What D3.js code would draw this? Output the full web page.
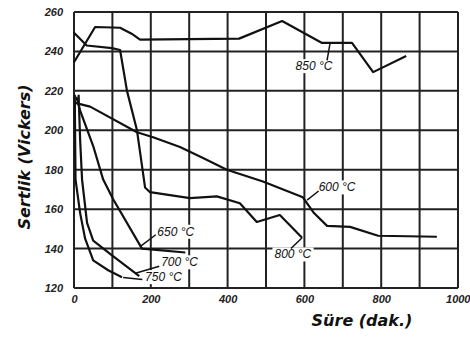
<!DOCTYPE html>
<html>
<head>
<meta charset="utf-8">
<script src="https://cdn.jsdelivr.net/npm/d3@7"></script>
<style>
  body { margin: 0; background: #fff; }
  svg { display: block; }
  .tick text { font-family: "Liberation Sans", sans-serif; font-style: italic; font-weight: bold; font-size: 11px; fill: #222; }
  .lbl { font-family: "Liberation Sans", sans-serif; font-style: italic; font-size: 12px; fill: #111; }
  .title { font-family: "DejaVu Sans", sans-serif; font-style: italic; font-weight: bold; font-size: 16px; fill: #111; }
</style>
</head>
<body>
<div id="chart"></div>
<script>
// tick labels
const xTicks = [0, 200, 400, 600, 800, 1000];
const yTicks = [120, 140, 160, 180, 200, 220, 240, 260];
const xGrid = [0, 100, 200, 300, 400, 500, 600, 700, 800, 900, 1000];

// hardness curves [time (min), Vickers]
const c850 = [[0,234.5],[55,252.4],[120,252],[150,249],[172,246],[430,246.5],[542,255.4],[646,244.3],[724,244.3],[779,229.5],[865,237.7]];
const c800 = [[0,249.5],[33,243],[99,241.7],[120,240.7],[138,220],[164,200],[185,171],[198,168.6],[302,165.6],[372,166.5],[432,163],[476,153.5],[536,157],[594,145.5]];
const c600 = [[0,214],[42,212],[164,199],[206,196.5],[276,191.5],[336,186],[398,180],[492,174],[596,166],[625,158],[659,151.5],[719,151],[792,146.5],[945,146]];
const c650 = [[6,217],[16,210],[50,192],[76,175],[102,165],[177,140],[290,138]];
const c700 = [[12,218],[16,195],[21,175],[34,153],[50,144],[99,136.6],[170,126]];
const c750 = [[2,218],[3,195],[4,175],[16,158],[29,145],[50,134],[89,129],[125,125.5]];

const curves = [c850, c800, c600, c650, c700, c750];

// label text, anchor point, leader [from, to]
const labels = [
  { t: "850 °C", at: [625, 230.5], lead: [[659, 235.5], [667, 244.3]] },
  { t: "600 °C", at: [685, 169], lead: [[607, 164.6], [637, 169.2]] },
  { t: "650 °C", at: [265, 146.5], lead: [[172, 141], [213, 147]] },
  { t: "800 °C", at: [570, 135], lead: [[594, 145.5], [565, 140]] },
  { t: "700 °C", at: [275, 131], lead: [[160, 127.5], [222, 131]] },
  { t: "750 °C", at: [233, 123.5], lead: [[128, 125.3], [178, 124.3]] }
];

const W = 470, H = 340;
const x = d3.scaleLinear().domain([0, 1000]).range([74, 458]);
const y = d3.scaleLinear().domain([120, 260]).range([288, 12]);

const svg = d3.select("#chart").append("svg").attr("width", W).attr("height", H);

// grid
svg.append("g").selectAll("line").data(xGrid).enter().append("line")
  .attr("x1", d => x(d)).attr("x2", d => x(d))
  .attr("y1", y(260)).attr("y2", y(120))
  .attr("stroke", "#222").attr("stroke-width", 2);
svg.append("g").selectAll("line").data(yTicks).enter().append("line")
  .attr("x1", x(0)).attr("x2", x(1000))
  .attr("y1", d => y(d)).attr("y2", d => y(d))
  .attr("stroke", "#222").attr("stroke-width", 2);

// axes (labels only)
const ax = svg.append("g").attr("transform", "translate(0," + (y(120) + 4) + ")")
  .call(d3.axisBottom(x).tickValues(xTicks).tickSize(0).tickFormat(d3.format("d")));
ax.select(".domain").remove();
ax.selectAll(".tick text").filter(d => d === 1000).attr("text-anchor", "end").attr("dx", "12");
const ay = svg.append("g").attr("transform", "translate(" + (x(0) - 8) + ",0)")
  .call(d3.axisLeft(y).tickValues(yTicks).tickSize(0));
ay.select(".domain").remove();

// curves
const line = d3.line().x(d => x(d[0])).y(d => y(d[1]));
svg.append("g").selectAll("path").data(curves).enter().append("path")
  .attr("d", line).attr("fill", "none")
  .attr("stroke", "#111").attr("stroke-width", 2.2).attr("stroke-linejoin", "round");

// labels
const lg = svg.append("g");
labels.forEach(l => {
  const tx = lg.append("text").attr("class", "lbl")
    .attr("x", x(l.at[0])).attr("y", y(l.at[1]))
    .attr("text-anchor", "middle").text(l.t);
  const bb = tx.node().getBBox();
  lg.insert("rect", "text").attr("x", bb.x - 2).attr("y", bb.y)
    .attr("width", bb.width + 4).attr("height", bb.height).attr("fill", "#fff");
  lg.append("path").attr("d", line(l.lead)).attr("fill", "none")
    .attr("stroke", "#111").attr("stroke-width", 1.5);
});

// axis titles
svg.append("text").attr("class", "title")
  .attr("transform", "translate(30,157) rotate(-90)")
  .attr("text-anchor", "middle").text("Sertlik  (Vickers)");
svg.append("text").attr("class", "title")
  .attr("x", 362).attr("y", 326).attr("text-anchor", "middle")
  .text("Süre (dak.)");
</script>
</body>
</html>
